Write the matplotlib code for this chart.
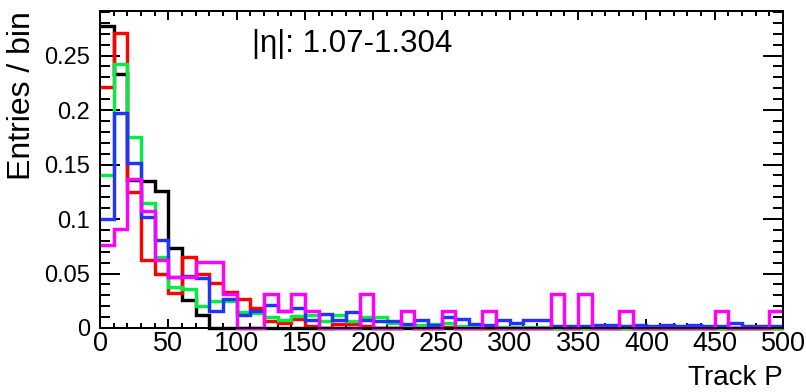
import numpy as np
import matplotlib
matplotlib.use("Agg")
import matplotlib.pyplot as plt
from matplotlib.ticker import MultipleLocator, FixedLocator

plt.rcParams['font.family'] = ['Liberation Sans', 'DejaVu Sans']

# Track momentum histograms, 50 bins of width 10 over [0, 500]
bin_edges = np.arange(0, 510, 10)

p_black = [0.277, 0.233, 0.136, 0.135, 0.126, 0.073, 0.026, 0.012, 0.0, 0.0,
           0.0, 0.0, 0.0, 0.0, 0.0, 0.0, 0.0, 0.0, 0.0, 0.0,
           0.0, 0.0, 0.0, 0.0, 0.0, 0.0, 0.0, 0.0, 0.0, 0.0,
           0.0, 0.0, 0.0, 0.0, 0.0, 0.0, 0.0, 0.0, 0.0, 0.0,
           0.0, 0.0, 0.0, 0.0, 0.0, 0.0, 0.0, 0.0, 0.0, 0.0]

p_red = [0.221, 0.271, 0.125, 0.062, 0.050, 0.032, 0.065, 0.050, 0.041, 0.033,
         0.027, 0.018, 0.006, 0.005, 0.008, 0.002, 0.0, 0.004, 0.004, 0.002,
         0.0, 0.0, 0.002, 0.0, 0.0, 0.001, 0.0, 0.0, 0.0, 0.0,
         0.0, 0.0, 0.0, 0.0, 0.0, 0.0, 0.0, 0.0, 0.0, 0.0,
         0.0, 0.0, 0.0, 0.0, 0.0, 0.0, 0.0, 0.0, 0.0, 0.0]

p_green = [0.140, 0.242, 0.175, 0.115, 0.065, 0.038, 0.036, 0.020, 0.025, 0.025,
           0.015, 0.014, 0.010, 0.007, 0.011, 0.012, 0.006, 0.012, 0.006, 0.010,
           0.010, 0.005, 0.003, 0.003, 0.004, 0.005, 0.002, 0.001, 0.002, 0.001,
           0.001, 0.001, 0.001, 0.0, 0.001, 0.0, 0.001, 0.0, 0.0, 0.0,
           0.0, 0.0, 0.0, 0.0, 0.0, 0.0, 0.0, 0.0, 0.0, 0.0]

p_blue = [0.100, 0.197, 0.151, 0.102, 0.081, 0.047, 0.048, 0.046, 0.016, 0.027,
          0.012, 0.016, 0.021, 0.016, 0.018, 0.007, 0.013, 0.007, 0.015, 0.007,
          0.006, 0.006, 0.004, 0.007, 0.003, 0.010, 0.008, 0.004, 0.003, 0.007,
          0.005, 0.007, 0.007, 0.002, 0.002, 0.002, 0.003, 0.003, 0.002, 0.003,
          0.002, 0.003, 0.002, 0.003, 0.002, 0.002, 0.005, 0.002, 0.002, 0.002]

p_magenta = [0.076, 0.091, 0.137, 0.107, 0.062, 0.047, 0.047, 0.061, 0.061, 0.031,
             0.0, 0.0, 0.031, 0.016, 0.031, 0.016, 0.0, 0.0, 0.0, 0.031,
             0.0, 0.0, 0.016, 0.0, 0.0, 0.016, 0.0, 0.0, 0.016, 0.0,
             0.0, 0.0, 0.0, 0.031, 0.0, 0.031, 0.0, 0.0, 0.016, 0.0,
             0.0, 0.0, 0.0, 0.0, 0.0, 0.016, 0.0, 0.0, 0.0, 0.016]

series = [
    (p_black, "#000000"),
    (p_red, "#ff0000"),
    (p_green, "#00ee44"),
    (p_blue, "#2233ff"),
    (p_magenta, "#ff00ff"),
]

x_ticks = [0, 50, 100, 150, 200, 250, 300, 350, 400, 450, 500]
y_ticks = [0, 0.05, 0.1, 0.15, 0.2, 0.25]
y_tick_labels = ["0", "0.05", "0.1", "0.15", "0.2", "0.25"]

W, H, DPI = 806, 392, 100
fig = plt.figure(figsize=(W / DPI, H / DPI), dpi=DPI)
ax = fig.add_axes([100 / W, 1 - 328 / H, (783 - 100) / W, (328 - 11) / H])

px = 72.0 / DPI
for vals, col in series:
    ax.stairs(vals, bin_edges, baseline=None, color=col, linewidth=3.4 * px,
              clip_on=False, zorder=2)

ymax = 1.05 * max(max(v) for v, _ in series)
ax.set_xlim(bin_edges[0], bin_edges[-1])
ax.set_ylim(0, ymax)

ax.xaxis.set_major_locator(FixedLocator(x_ticks))
ax.xaxis.set_minor_locator(MultipleLocator(10))
ax.set_yticks(y_ticks)
ax.set_yticklabels(y_tick_labels)
ax.yaxis.set_minor_locator(MultipleLocator(0.01))

ax.tick_params(axis='both', which='both', direction='in', top=True, right=True,
               width=2 * px, color='black', zorder=5)
ax.tick_params(axis='x', which='major', length=9 * px, labelsize=19.5, pad=2)
ax.tick_params(axis='x', which='minor', length=5 * px)
ax.tick_params(axis='y', which='major', length=20 * px, labelsize=17, pad=7)
ax.tick_params(axis='y', which='minor', length=10 * px)
for s in ax.spines.values():
    s.set_linewidth(2 * px)
    s.set_zorder(5)

ax.set_xlabel("Track P", fontsize=20, loc='right', labelpad=6)
ax.set_ylabel("Entries / bin", fontsize=23, loc='top', labelpad=5)

ax.text(0.222, 0.895, "|η|: 1.07-1.304", transform=ax.transAxes,
        fontsize=22.5, va='center', ha='left')

fig.savefig("out.png", dpi=DPI)
